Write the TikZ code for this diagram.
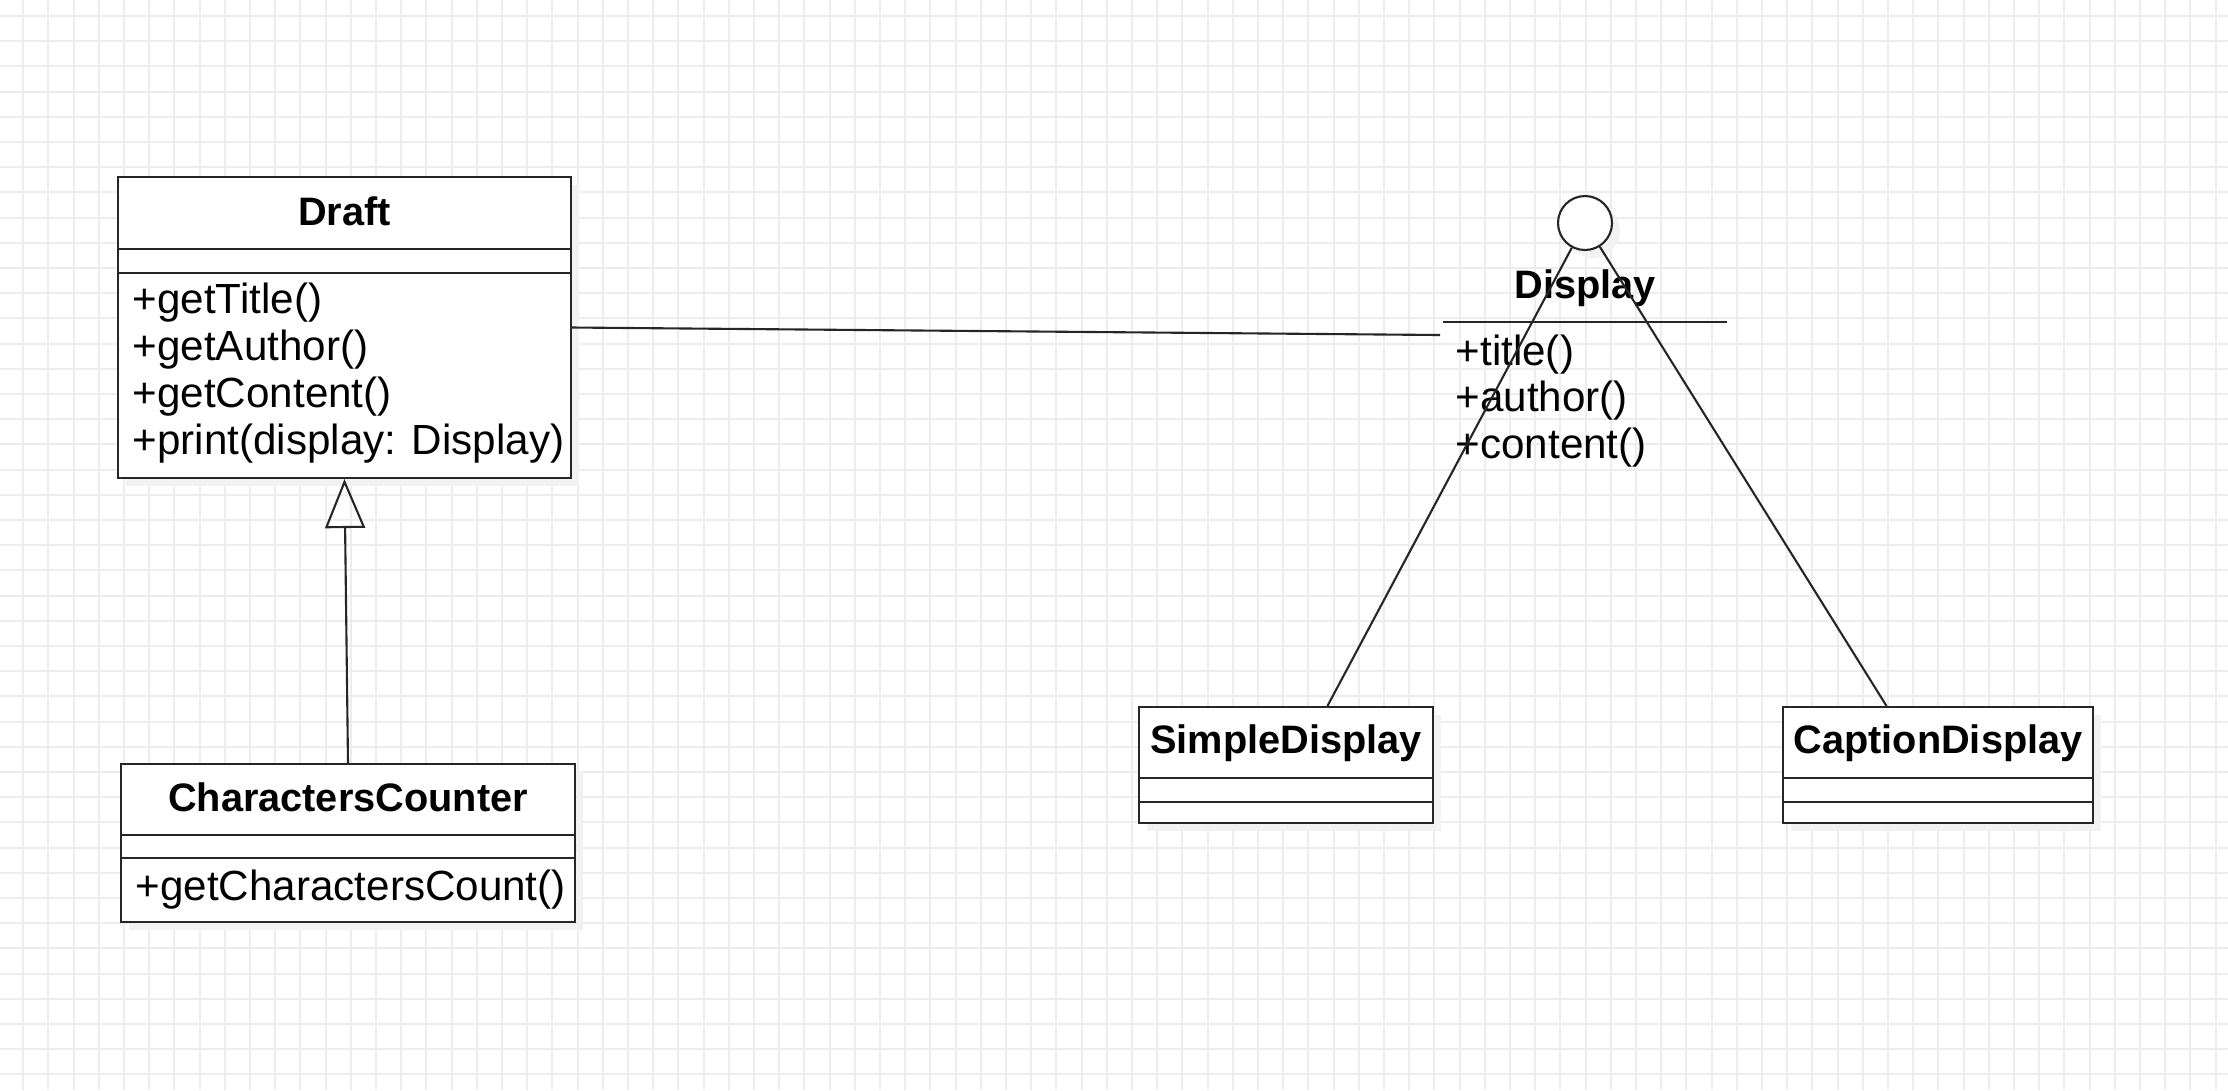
\documentclass[tikz,border=0pt]{standalone}
\usepackage{fontspec}
\setmainfont{Liberation Sans}
\usetikzlibrary{arrows.meta,calc}

\begin{document}
\begin{tikzpicture}[
    classbox/.style={draw=black!85, line width=0.6pt, fill=white, inner sep=0pt},
    shadowbox/.style={fill=black!5, draw=none, inner sep=0pt},
    gridline/.style={draw=black!7, line width=0.55pt},
    titletxt/.style={font=\fontsize{11.3}{13}\selectfont\bfseries, inner sep=0pt, anchor=base},
    methodtxt/.style={font=\fontsize{12}{14}\selectfont, inner sep=0pt, anchor=base west},
    conn/.style={black!85, line width=0.6pt},
    inherit/.style={conn, -{Triangle[open, length=0.49cm, width=0.40cm]}}
]
    \useasboundingbox (0,0) rectangle (22.28,-10.90);
    \fill[white] (0,0) rectangle (22.28,-10.90);
    % background grid
    \foreach \i in {1,...,88}
        \draw[gridline] (\i*0.252-0.02,0) -- (\i*0.252-0.02,-10.90);
    \foreach \j in {0,...,42}
        \draw[gridline] (0,-0.16-\j*0.252) -- (22.28,-0.16-\j*0.252);

    % Draft
    \node[shadowbox, minimum width=4.53cm, minimum height=3.01cm] at (3.525,-3.355) {};
    \node[classbox, minimum width=4.53cm, minimum height=3.01cm] (draft) at (3.445,-3.275) {};
    \draw[conn] (draft.west |- 0,-2.49) -- (draft.east |- 0,-2.49);
    \draw[conn] (draft.west |- 0,-2.73) -- (draft.east |- 0,-2.73);
    \node[titletxt] (drafttitle) at (3.445,-2.25) {Draft};
    \foreach \m [count=\k] in {+getTitle(), +getAuthor(), +getContent(), {+print(display: Display)}}
        \node[methodtxt] (draftm\k) at (1.32,-2.66-0.47*\k) {\m};

    % CharactersCounter
    \node[shadowbox, minimum width=4.54cm, minimum height=1.58cm] at (3.56,-8.51) {};
    \node[classbox, minimum width=4.54cm, minimum height=1.58cm] (counter) at (3.48,-8.43) {};
    \draw[conn] (counter.west |- 0,-8.35) -- (counter.east |- 0,-8.35);
    \draw[conn] (counter.west |- 0,-8.58) -- (counter.east |- 0,-8.58);
    \node[titletxt] (countertitle) at (3.48,-8.11) {CharactersCounter};
    \node[methodtxt] (counterm1) at (1.35,-9.00) {+getCharactersCount()};

    % SimpleDisplay
    \node[shadowbox, minimum width=2.94cm, minimum height=1.16cm] at (12.94,-7.73) {};
    \node[classbox, minimum width=2.94cm, minimum height=1.16cm] (simple) at (12.86,-7.65) {};
    \draw[conn] (simple.west |- 0,-7.78) -- (simple.east |- 0,-7.78);
    \draw[conn] (simple.west |- 0,-8.02) -- (simple.east |- 0,-8.02);
    \node[titletxt] (simpletitle) at (12.86,-7.53) {SimpleDisplay};

    % CaptionDisplay
    \node[shadowbox, minimum width=3.10cm, minimum height=1.16cm] at (19.46,-7.73) {};
    \node[classbox, minimum width=3.10cm, minimum height=1.16cm] (caption) at (19.38,-7.65) {};
    \draw[conn] (caption.west |- 0,-7.78) -- (caption.east |- 0,-7.78);
    \draw[conn] (caption.west |- 0,-8.02) -- (caption.east |- 0,-8.02);
    \node[titletxt] (captiontitle) at (19.38,-7.53) {CaptionDisplay};

    % Display interface
    \node[shadowbox, circle, minimum size=0.54cm] at (15.93,-2.31) {};
    \node[classbox, circle, minimum size=0.54cm] (dispcirc) at (15.85,-2.23) {};
    \node[titletxt] (disptitle) at (15.85,-2.98) {Display};
    \draw[conn] (14.43,-3.22) -- (17.27,-3.22);
    \foreach \m [count=\k] in {+title(), +author(), +content()}
        \node[methodtxt] (dispm\k) at (14.55,-3.185-0.465*\k) {\m};
    \coordinate (dispjoin) at (14.40,-3.35);

    % connectors
    \draw[conn] (draft.east) -- (dispjoin);
    \draw[inherit] (counter.north) -- (draft.south);
    \draw[conn] (dispcirc) -- ($(simple.north west)!0.64!(simple.north east)$);
    \draw[conn] (dispcirc) -- ($(caption.north west)!0.335!(caption.north east)$);
\end{tikzpicture}
\end{document}
